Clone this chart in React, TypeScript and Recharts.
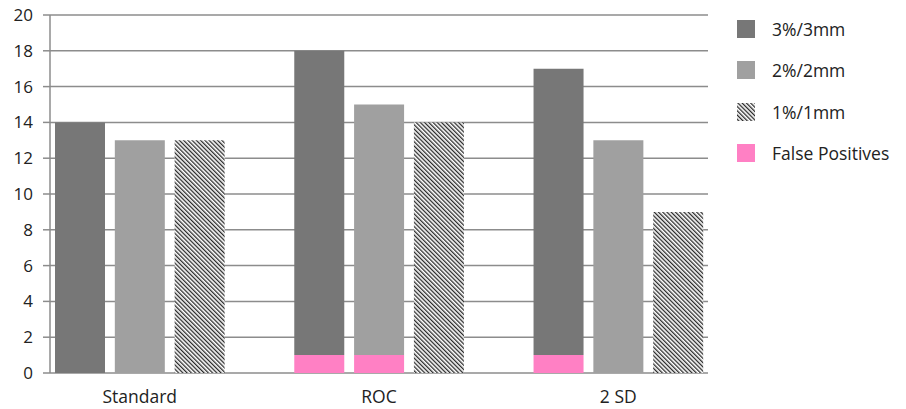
import { BarChart, Bar, XAxis, YAxis, CartesianGrid } from "recharts"

const categories = ["Standard", "ROC", "2 SD"]
const tol3 = [14, 18, 17]
const tol2 = [13, 15, 13]
const tol1 = [13, 14, 9]
const fp3 = [0, 1, 1]
const fp2 = [0, 1, 0]
const fp1 = [0, 0, 0]
const yTicks = [0, 2, 4, 6, 8, 10, 12, 14, 16, 18, 20]

const DARK = "#777777"
const LIGHT = "#a0a0a0"
const PINK = "#ff80c4"
const AXIS = "#8c8c8c"

// one slot per bar, with an empty slot between the groups (Excel style)
const rows: any[] = []
categories.forEach((c, i) => {
  if (i > 0) rows.push({ key: `gap${i}`, label: "" })
  rows.push({ key: `${c}-3`, label: "", fp: fp3[i], s3: tol3[i] - fp3[i] })
  rows.push({ key: `${c}-2`, label: c, fp: fp2[i], s2: tol2[i] - fp2[i] })
  rows.push({ key: `${c}-1`, label: "", fp: fp1[i], s1: tol1[i] - fp1[i] })
})
const slotTicks = rows.map((_, i) => i).concat([rows.length])

const legendItems = [
  { name: "3%/3mm", fill: DARK },
  { name: "2%/2mm", fill: LIGHT },
  { name: "1%/1mm", fill: "url(#hatchL)" },
  { name: "False Positives", fill: PINK }
]

const Hatch = ({ id }: { id: string }) => (
  <pattern id={id} width={3} height={3} patternUnits="userSpaceOnUse" patternTransform="rotate(-45)">
    <rect width={3} height={3} fill="#ffffff" />
    <line x1={0} y1={0} x2={0} y2={3} stroke="#2a2a2a" strokeWidth={2.6} />
  </pattern>
)

const LegendBox = () => (
  <div style={{ position: "absolute", left: 737, top: 8, width: 170 }}>
    <svg width={0} height={0} style={{ position: "absolute" }}>
      <defs>
        <Hatch id="hatchL" />
      </defs>
    </svg>
    {legendItems.map((it) => (
      <div
        key={it.name}
        style={{ display: "flex", alignItems: "center", height: 41.5, fontSize: 17.5, color: "#222" }}
      >
        <svg width={18} height={18} style={{ marginRight: 17 }}>
          <rect width={18} height={18} fill={it.fill} />
        </svg>
        {it.name}
      </div>
    ))}
  </div>
)

export default function App() {
  return (
    <div style={{ position: "absolute", left: 0, top: 0, width: 906, height: 409, fontFamily: "'Open Sans', sans-serif" }}>
      <BarChart
        width={906}
        height={409}
        data={rows}
        margin={{ top: 15, right: 198, left: 0, bottom: 0 }}
      >
        <defs>
          <Hatch id="hatch" />
        </defs>
        <CartesianGrid xAxisId="cat" vertical={false} stroke={AXIS} strokeWidth={1.5} />
        <XAxis
          xAxisId="cat"
          dataKey="key"
          height={36}
          interval={0}
          axisLine={false}
          tickLine={false}
          tickSize={0}
          tickMargin={18}
          tickFormatter={(_v: string, i: number) => rows[i]?.label ?? ""}
          tick={{ fill: "#222", fontSize: 17.5 }}
        />
        <XAxis
          xAxisId="slots"
          type="number"
          domain={[0, rows.length]}
          ticks={slotTicks}
          height={0}
          tick={false}
          tickSize={7}
          axisLine={{ stroke: AXIS, strokeWidth: 1.5 }}
          tickLine={{ stroke: AXIS, strokeWidth: 1.5 }}
        />
        <YAxis
          width={50}
          domain={[0, 20]}
          ticks={yTicks}
          interval={0}
          tickSize={7}
          tickMargin={10}
          axisLine={{ stroke: AXIS, strokeWidth: 1.5 }}
          tickLine={{ stroke: AXIS, strokeWidth: 1.5 }}
          tick={{ fill: "#222", fontSize: 17 }}
        />
        <Bar xAxisId="cat" dataKey="fp" stackId="a" fill={PINK} barSize={50} isAnimationActive={false} />
        <Bar xAxisId="cat" dataKey="s3" stackId="a" fill={DARK} barSize={50} isAnimationActive={false} />
        <Bar xAxisId="cat" dataKey="s2" stackId="a" fill={LIGHT} barSize={50} isAnimationActive={false} />
        <Bar xAxisId="cat" dataKey="s1" stackId="a" fill="url(#hatch)" barSize={50} isAnimationActive={false} />
      </BarChart>
      <LegendBox />
    </div>
  )
}
